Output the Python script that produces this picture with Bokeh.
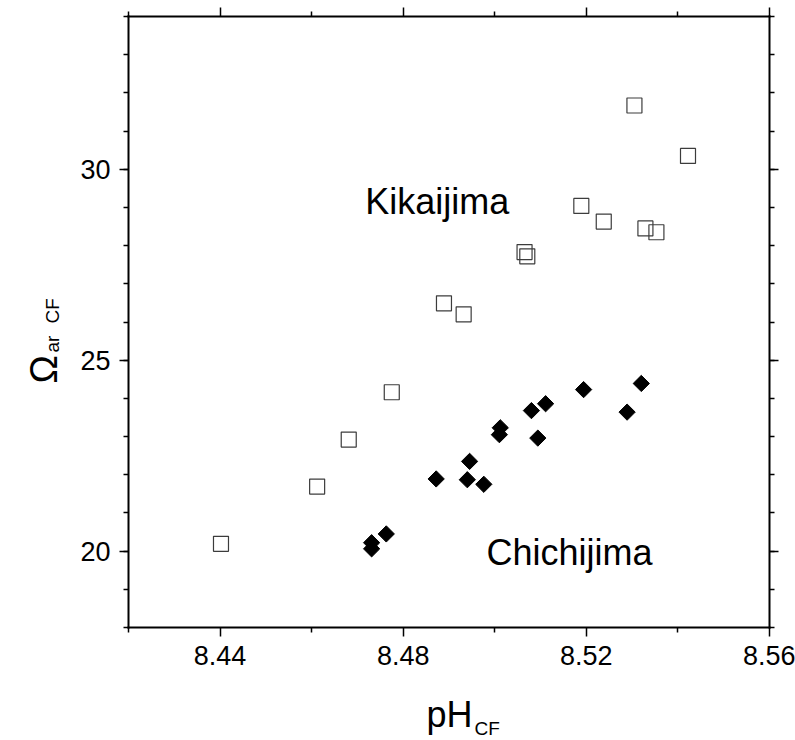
import numpy as np
from bokeh.plotting import figure
from bokeh.models import (LinearAxis, FixedTicker, Label, Range1d,
                          CustomJSTickFormatter, PrintfTickFormatter)
from bokeh.embed import file_html
from bokeh.resources import INLINE

# Kikaijima (open squares)
kik_ph = [8.5305, 8.5422, 8.5189, 8.5238, 8.5329, 8.5353, 8.5065, 8.5071,
          8.4889, 8.4932, 8.4775, 8.4681, 8.4612, 8.4402]
kik_omega = [31.67, 30.35, 29.04, 28.63, 28.45, 28.35, 27.83, 27.72,
             26.49, 26.20, 24.16, 22.92, 21.69, 20.19]

# Chichijima (filled diamonds)
chi_ph = [8.5194, 8.5320, 8.5111, 8.5080, 8.5289, 8.5012, 8.5010, 8.5094,
          8.4945, 8.4872, 8.4940, 8.4976, 8.4763, 8.4731, 8.4731]
chi_omega = [24.23, 24.39, 23.86, 23.68, 23.64, 23.23, 23.05, 22.96,
             22.35, 21.89, 21.87, 21.75, 20.45, 20.22, 20.06]

x_lim = (8.42, 8.56)
y_lim = (18, 34)
x_major = [8.44, 8.48, 8.52, 8.56]
x_minor = [8.42, 8.46, 8.50, 8.54]
y_major = [20, 25, 30]
y_minor = list(range(18, 35))

FONT = "Liberation Sans"

# canvas layout (pixels): the plotting box occupies [128, 769] x [16, 627]
W, H = 795, 740
BOX_L, BOX_R, BOX_T, BOX_B = 128, 769, 16, 627
sx = (x_lim[1] - x_lim[0]) / (BOX_R - BOX_L)
sy = (y_lim[1] - y_lim[0]) / (BOX_B - BOX_T)
x_range = Range1d(x_lim[0] - BOX_L * sx, x_lim[1] + (W - BOX_R) * sx)
y_range = Range1d(y_lim[0] - (H - BOX_B) * sy, y_lim[1] + BOX_T * sy)

p = figure(width=W, height=H, x_range=x_range, y_range=y_range,
           output_backend="svg", toolbar_location=None,
           x_axis_location=None, y_axis_location=None,
           min_border=0)
p.xgrid.visible = False
p.ygrid.visible = False
p.outline_line_color = None
p.background_fill_color = "white"
p.border_fill_color = "white"

xt = FixedTicker(ticks=x_major, minor_ticks=x_minor)
yt = FixedTicker(ticks=y_major, minor_ticks=y_minor)


def make_axis(ticker, loc, bounds, show_labels):
    ax = LinearAxis(ticker=ticker, fixed_location=loc, bounds=bounds)
    ax.axis_line_color = "black"
    ax.axis_line_width = 2
    ax.axis_line_cap = "square"
    ax.major_tick_line_color = "black"
    ax.major_tick_line_width = 1.5
    ax.minor_tick_line_color = "black"
    ax.minor_tick_line_width = 1.5
    ax.major_tick_in = 0
    ax.major_tick_out = 9
    ax.minor_tick_in = 0
    ax.minor_tick_out = 5
    if show_labels:
        ax.major_label_text_font = FONT
        ax.major_label_text_font_size = "27px"
        ax.major_label_text_color = "black"
        ax.major_label_standoff = 9
    else:
        ax.formatter = CustomJSTickFormatter(code="return ''")
        ax.major_label_text_font_size = "0px"
        ax.major_label_standoff = 0
    return ax


bottom = make_axis(xt, y_lim[0], x_lim, True)
bottom.formatter = PrintfTickFormatter(format="%.2f")
p.add_layout(bottom, "below")
p.add_layout(make_axis(xt, y_lim[1], x_lim, False), "above")
p.add_layout(make_axis(yt, x_lim[0], y_lim, True), "left")
p.add_layout(make_axis(yt, x_lim[1], y_lim, False), "right")

p.scatter(kik_ph, kik_omega, marker="square", size=15, fill_color=None,
          line_color="#3c3c3c", line_width=1.2)
p.scatter(chi_ph, chi_omega, marker="square", angle=np.pi / 4, size=11.5,
          fill_color="black", line_color="black")

# series labels
p.add_layout(Label(x=8.4717, y=29.16, text="Kikaijima", text_font=FONT,
                   text_font_size="36px", text_color="black",
                   text_align="left", text_baseline="alphabetic"))
p.add_layout(Label(x=8.4982, y=19.96, text="Chichijima", text_font=FONT,
                   text_font_size="36px", text_color="black",
                   text_align="left", text_baseline="alphabetic"))


# axis titles, in screen pixels from the canvas bottom-left
def slabel(x, y, text, size, angle=0.0):
    p.add_layout(Label(x=x, y=y, x_units="screen", y_units="screen",
                       text=text, text_font=FONT, text_font_size=size,
                       text_color="black", angle=angle,
                       text_align="left", text_baseline="alphabetic"))


slabel(426, 26, "pH", "36px")
slabel(474, 12, "CF", "19px")
slabel(43, 357, "Ω", "38px", np.pi / 2)
slabel(52, 388, "ar", "19px", np.pi / 2)
slabel(52, 417, "CF", "19px", np.pi / 2)

open("out.html", "w").write(file_html(p, INLINE))
